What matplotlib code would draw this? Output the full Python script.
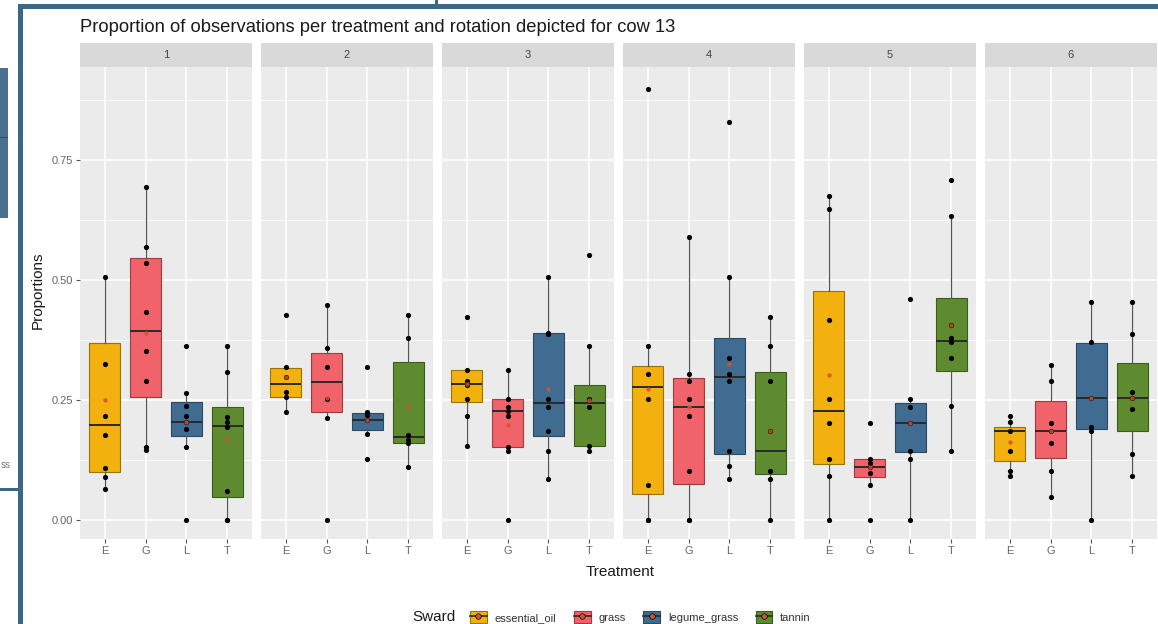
# boxplots of proportions per treatment, faceted by rotation (cow 13)
import matplotlib
matplotlib.use('Agg')
import matplotlib.pyplot as plt
from matplotlib.patches import Rectangle, Patch
from matplotlib.lines import Line2D

plt.rcParams['font.family'] = ['Liberation Sans', 'DejaVu Sans']

W, H = 1158, 624

rotations = ['1', '2', '3', '4', '5', '6']
treatments = ['E', 'G', 'L', 'T']
swards = ['essential_oil', 'grass', 'legume_grass', 'tannin']
sward_colors = ['#F2B10E', '#F0636A', '#3F6C90', '#5E8B30']
sward_edges = ['#9A7300', '#9E3C42', '#2A4A63', '#3C5C1C']

# box statistics, one row per rotation, columns E, G, L, T
whislo = [[0.064, 0.147, 0.153, 0.000],
          [0.226, 0.213, 0.179, 0.110],
          [0.155, 0.144, 0.085, 0.144],
          [0.000, 0.000, 0.085, 0.000],
          [0.000, 0.073, 0.000, 0.144],
          [0.092, 0.047, 0.000, 0.092]]
q1 = [[0.101, 0.256, 0.175, 0.047],
      [0.256, 0.226, 0.188, 0.160],
      [0.245, 0.153, 0.175, 0.155],
      [0.054, 0.075, 0.138, 0.096],
      [0.117, 0.089, 0.142, 0.311],
      [0.123, 0.130, 0.189, 0.185]]
med = [[0.198, 0.394, 0.205, 0.196],
       [0.283, 0.288, 0.208, 0.172],
       [0.283, 0.228, 0.244, 0.244],
       [0.278, 0.235, 0.299, 0.144],
       [0.228, 0.111, 0.203, 0.373],
       [0.186, 0.186, 0.255, 0.255]]
q3 = [[0.369, 0.545, 0.245, 0.236],
      [0.316, 0.347, 0.224, 0.330],
      [0.313, 0.253, 0.389, 0.281],
      [0.321, 0.295, 0.380, 0.308],
      [0.477, 0.127, 0.243, 0.462],
      [0.194, 0.249, 0.369, 0.328]]
whishi = [[0.506, 0.693, 0.265, 0.363],
          [0.319, 0.449, 0.226, 0.427],
          [0.313, 0.313, 0.506, 0.363],
          [0.363, 0.590, 0.506, 0.422],
          [0.675, 0.127, 0.253, 0.633],
          [0.217, 0.324, 0.455, 0.455]]
means = [[0.250, 0.390, 0.205, 0.168],
         [0.299, 0.255, 0.208, 0.236],
         [0.283, 0.197, 0.274, 0.250],
         [0.274, 0.235, 0.326, 0.186],
         [0.302, 0.111, 0.203, 0.406],
         [0.163, 0.186, 0.255, 0.255]]

# observed proportions per rotation (E, G, L, T)
points_r1 = [[0.506, 0.326, 0.217, 0.178, 0.108, 0.090, 0.064],
             [0.693, 0.569, 0.536, 0.434, 0.353, 0.290, 0.153, 0.146],
             [0.363, 0.265, 0.238, 0.217, 0.205, 0.190, 0.153, 0.000],
             [0.363, 0.309, 0.214, 0.205, 0.194, 0.061, 0.000, 0.000]]
points_r2 = [[0.427, 0.319, 0.299, 0.267, 0.256, 0.226],
             [0.449, 0.358, 0.319, 0.253, 0.213, 0.000],
             [0.319, 0.226, 0.219, 0.208, 0.179, 0.127],
             [0.427, 0.380, 0.178, 0.167, 0.160, 0.110]]
points_r3 = [[0.422, 0.313, 0.290, 0.281, 0.253, 0.217, 0.155],
             [0.313, 0.253, 0.236, 0.228, 0.217, 0.153, 0.144, 0.000],
             [0.506, 0.389, 0.387, 0.253, 0.236, 0.185, 0.144, 0.085],
             [0.552, 0.363, 0.253, 0.236, 0.155, 0.144]]
points_r4 = [[0.899, 0.363, 0.304, 0.253, 0.073, 0.000, 0.000],
             [0.590, 0.304, 0.289, 0.253, 0.217, 0.103, 0.000, 0.000],
             [0.829, 0.506, 0.337, 0.305, 0.290, 0.144, 0.113, 0.085],
             [0.422, 0.363, 0.289, 0.186, 0.103, 0.085, 0.000]]
points_r5 = [[0.675, 0.649, 0.417, 0.253, 0.203, 0.127, 0.092, 0.000],
             [0.203, 0.127, 0.118, 0.110, 0.097, 0.073, 0.000],
             [0.460, 0.253, 0.236, 0.203, 0.144, 0.127, 0.000],
             [0.708, 0.633, 0.406, 0.380, 0.370, 0.337, 0.238, 0.144]]
points_r6 = [[0.217, 0.205, 0.186, 0.144, 0.103, 0.092],
             [0.324, 0.290, 0.203, 0.186, 0.161, 0.103, 0.047],
             [0.455, 0.370, 0.255, 0.194, 0.186, 0.000],
             [0.455, 0.387, 0.267, 0.255, 0.231, 0.138, 0.092]]
points = [points_r1, points_r2, points_r3, points_r4, points_r5, points_r6]

yticks = [0.0, 0.25, 0.5, 0.75]
ytick_labels = ['0.00', '0.25', '0.50', '0.75']


def fx(x):
    return x / W


def fy(y):
    return 1 - y / H


fig = plt.figure(figsize=(W / 100, H / 100), dpi=100)
fig.patch.set_facecolor('white')

# screenshot frame and bits of the window behind it
frame = '#3A6888'
fig.add_artist(Rectangle((0, fy(218)), fx(8), 150 / H, transform=fig.transFigure,
                         color='#4B6F8F', lw=0))
fig.add_artist(Rectangle((0, fy(138)), fx(8), 1.5 / H, transform=fig.transFigure,
                         color='#2E4F6A', lw=0))
fig.add_artist(Rectangle((0, fy(491)), fx(20), 3 / H, transform=fig.transFigure,
                         color=frame, lw=0))
fig.text(fx(1), fy(465), 'ss', ha='left', va='center', fontsize=7, color='#777777')
fig.add_artist(Rectangle((fx(18), 0), 5 / W, fy(4), transform=fig.transFigure,
                         color=frame, lw=0))
fig.add_artist(Rectangle((fx(18), fy(9)), 1 - fx(18), 5 / H, transform=fig.transFigure,
                         color=frame, lw=0))
fig.add_artist(Rectangle((fx(435), fy(5)), 3 / W, 5 / H, transform=fig.transFigure,
                         color=frame, lw=0))

panel_left = [80, 261, 442, 623, 804, 985]
panel_w = 172

for i, rot in enumerate(rotations):
    x0 = panel_left[i]
    ax = fig.add_axes([fx(x0), fy(539), panel_w / W, 472 / H])
    ax.set_facecolor('#EBEBEB')
    ax.set_axisbelow(True)

    stats = []
    for j in range(4):
        stats.append(dict(whislo=whislo[i][j], q1=q1[i][j], med=med[i][j],
                          q3=q3[i][j], whishi=whishi[i][j], fliers=[]))
    bp = ax.bxp(stats, positions=[1, 2, 3, 4], widths=0.77, patch_artist=True,
                showfliers=False, showcaps=False,
                boxprops=dict(linewidth=0.8),
                medianprops=dict(color='#2A2A2A', linewidth=1.4),
                whiskerprops=dict(color='#555555', linewidth=0.9))
    for j, patch in enumerate(bp['boxes']):
        patch.set_facecolor(sward_colors[j])
        patch.set_edgecolor(sward_edges[j])

    for j in range(4):
        pts = points[i][j]
        ax.scatter([j + 1] * len(pts), pts, s=14, color='black', zorder=3, lw=0)
    ax.scatter([1, 2, 3, 4], means[i], s=10, color='#D8522A', zorder=4, lw=0, alpha=0.85)

    ax.set_xlim(0.4, 4.6)
    ax.set_ylim(-0.0396, 0.944)
    ax.set_xticks([1, 2, 3, 4])
    ax.set_xticklabels(treatments)
    ax.set_yticks(yticks)
    ax.set_yticks([0.125, 0.375, 0.625, 0.875], minor=True)
    ax.grid(True, which='major', color='white', lw=1.1)
    ax.grid(True, which='minor', axis='y', color='white', lw=0.5)
    for s in ax.spines.values():
        s.set_visible(False)
    ax.tick_params(axis='both', which='major', length=3, color='#555555',
                   labelsize=8, labelcolor='#666666', pad=2)
    ax.tick_params(axis='both', which='minor', length=0)
    if i == 0:
        ax.set_yticklabels(ytick_labels)
    else:
        ax.tick_params(axis='y', left=False, labelleft=False)

    # facet strip
    fig.add_artist(Rectangle((fx(x0), fy(67)), panel_w / W, 24 / H,
                             transform=fig.transFigure, color='#D9D9D9', lw=0))
    fig.text(fx(x0 + panel_w / 2), fy(55), rot, ha='center', va='center',
             fontsize=8, color='#444444')

fig.text(fx(80), fy(27), 'Proportion of observations per treatment and rotation depicted for cow 13',
         ha='left', va='center', fontsize=13.2, color='#1A1A1A')
fig.text(fx(38), fy(290), 'Proportions', rotation=90, ha='center', va='center',
         fontsize=11, color='#1A1A1A')
fig.text(fx(620), fy(572), 'Treatment', ha='center', va='center', fontsize=11,
         color='#1A1A1A')

# legend
fig.text(fx(412), fy(617), 'Sward', ha='left', va='center', fontsize=11, color='#1A1A1A')
handles = []
for c, e in zip(sward_colors, sward_edges):
    handles.append((Patch(facecolor=c, edgecolor=e, lw=0.8),
                    Line2D([], [], color='#2A2A2A', lw=1.2),
                    Line2D([], [], marker='o', ls='none', color='black', ms=3.5),
                    Line2D([], [], marker='o', ls='none', color='#D8522A', ms=2.5)))
fig.legend(handles, swards, ncol=4, loc='center left', bbox_to_anchor=(fx(460), fy(617)),
           frameon=False, fontsize=8, handlelength=1.5, handleheight=1.3,
           handletextpad=0.7, columnspacing=1.6, labelcolor='#333333')

fig.savefig('out.png', dpi=100)
